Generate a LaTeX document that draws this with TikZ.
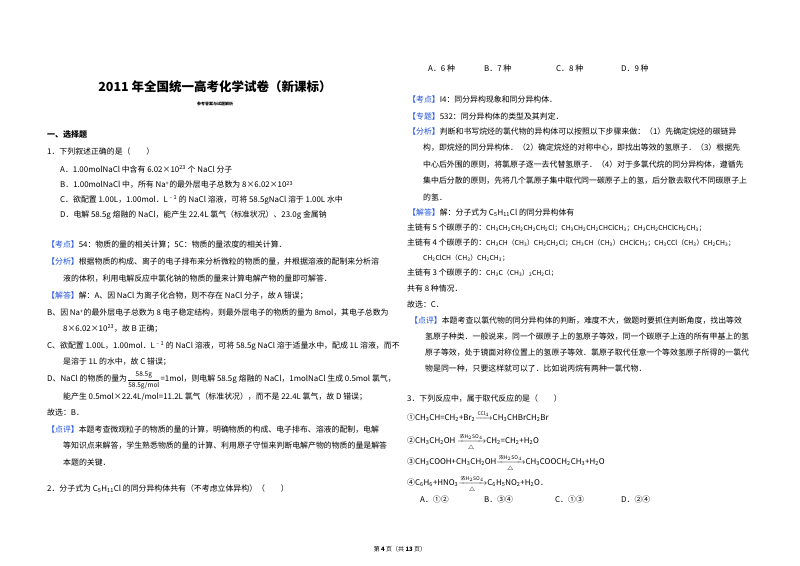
\documentclass[tikz,border=0pt]{standalone}
\usepackage{amsmath}
\usepackage{fontspec}
\setmainfont{Noto Sans CJK SC}
\definecolor{tagblue}{RGB}{30,80,220}
\newcommand{\tg}[1]{\textcolor{tagblue}{【#1】}}
\newcommand{\sbs}[1]{\textsubscript{#1}}
\newcommand{\sps}[1]{\textsuperscript{#1}}
\newcommand{\rarr}[1]{\raisebox{0pt}[4pt][0pt]{$\xrightarrow[{\scriptstyle\triangle}]{\text{\tiny #1}}$}}
\begin{document}
\begin{tikzpicture}[x=1pt,y=1pt,
  txt/.style={anchor=west,inner sep=0,font=\fontsize{7.9}{9}\selectfont}]
\fill[white] (0,0) rectangle (800,565);
\useasboundingbox (0,0) rectangle (800,565);
\newcommand{\Ln}[4]{\node[txt] (#1) at (#2,565-#3) {#4};}
% left column
\node[font=\fontsize{12.5}{14}\selectfont\bfseries] (title) at (215,565-87) {2011 年全国统一高考化学试卷（新课标）};
\node[font=\fontsize{4}{5}\selectfont\bfseries] (sub) at (215,565-104) {参考答案与试题解析};
\node[txt,font=\fontsize{8}{9}\selectfont\bfseries] (sec) at (47,565-135) {一、选择题};
\Ln{q1}{47}{152}{1．下列叙述正确的是（\quad\quad）}
\Ln{q1a}{60}{169}{A．1.00molNaCl 中含有 6.02×10\sps{23} 个 NaCl 分子}
\Ln{q1b}{60}{185}{B．1.00molNaCl 中，所有 Na\sps{+}的最外层电子总数为 8×6.02×10\sps{23}}
\Ln{q1c}{60}{200}{C．欲配置 1.00L，1.00mol．L\sps{﹣1} 的 NaCl 溶液，可将 58.5gNaCl 溶于 1.00L 水中}
\Ln{q1d}{60}{215}{D．电解 58.5g 熔融的 NaCl，能产生 22.4L 氯气（标准状况）、23.0g 金属钠}
\Ln{k1}{47}{245}{\tg{考点}54：物质的量的相关计算；5C：物质的量浓度的相关计算．}
\Ln{f1}{47}{262}{\tg{分析}根据物质的构成、离子的电子排布来分析微粒的物质的量，并根据溶液的配制来分析溶}
\Ln{f1b}{63}{279}{液的体积，利用电解反应中氯化钠的物质的量来计算电解产物的量即可解答．}
\Ln{j1}{47}{296}{\tg{解答}解：A、因 NaCl 为离子化合物，则不存在 NaCl 分子，故 A 错误；}
\Ln{j1b}{47}{313}{B、因 Na\sps{+}的最外层电子总数为 8 电子稳定结构，则最外层电子的物质的量为 8mol，其电子总数为}
\Ln{j1c}{63}{329}{8×6.02×10\sps{23}，故 B 正确；}
\Ln{j1d}{47}{346}{C、欲配置 1.00L，1.00mol．L\sps{﹣1} 的 NaCl 溶液，可将 58.5g NaCl 溶于适量水中，配成 1L 溶液，而不}
\Ln{j1e}{63}{362}{是溶于 1L 的水中，故 C 错误；}
\Ln{j1f}{47}{380}{D、NaCl 的物质的量为\raisebox{0pt}[5pt][3pt]{$\dfrac{\text{\fontsize{6.5}{7}\selectfont 58.5g}}{\text{\fontsize{6.5}{7}\selectfont 58.5g/mol}}$}=1mol，则电解 58.5g 熔融的 NaCl，1molNaCl 生成 0.5mol 氯气，}
\Ln{j1g}{63}{397}{能产生 0.5mol×22.4L/mol=11.2L 氯气（标准状况），而不是 22.4L 氯气，故 D 错误；}
\Ln{j1h}{47}{413}{故选：B．}
\Ln{d1}{47}{430}{\tg{点评}本题考查微观粒子的物质的量的计算，明确物质的构成、电子排布、溶液的配制，电解}
\Ln{d1b}{63}{446}{等知识点来解答，学生熟悉物质的量的计算、利用原子守恒来判断电解产物的物质的量是解答}
\Ln{d1c}{63}{463}{本题的关键．}
\Ln{q2}{47}{489}{2．分子式为 C\sbs{5}H\sbs{11}Cl 的同分异构体共有（不考虑立体异构）（\quad\quad）}
% right column
\Ln{q2a}{428}{69}{A．6 种}
\Ln{q2b}{484}{69}{B．7 种}
\Ln{q2c}{556}{69}{C．8 种}
\Ln{q2d}{621}{69}{D．9 种}
\Ln{k2}{408}{100}{\tg{考点}I4：同分异构现象和同分异构体．}
\Ln{z2}{408}{116}{\tg{专题}532：同分异构体的类型及其判定．}
\Ln{f2}{408}{132}{\tg{分析}判断和书写烷烃的氯代物的异构体可以按照以下步骤来做：（1）先确定烷烃的碳链异}
\Ln{f2b}{423}{148}{构，即烷烃的同分异构体．（2）确定烷烃的对称中心，即找出等效的氢原子．（3）根据先}
\Ln{f2c}{423}{165}{中心后外围的原则，将氯原子逐一去代替氢原子．（4）对于多氯代烷的同分异构体，遵循先}
\Ln{f2d}{423}{181}{集中后分散的原则，先将几个氯原子集中取代同一碳原子上的氢，后分散去取代不同碳原子上}
\Ln{f2e}{423}{197}{的氢．}
\Ln{j2}{408}{213}{\tg{解答}解：分子式为 C\sbs{5}H\sbs{11}Cl 的同分异构体有}
\Ln{j2a}{407}{228}{主链有 5 个碳原子的：{\fontsize{6.8}{8}\selectfont CH\sbs{3}CH\sbs{2}CH\sbs{2}CH\sbs{2}CH\sbs{2}Cl；CH\sbs{3}CH\sbs{2}CH\sbs{2}CHClCH\sbs{3}；CH\sbs{3}CH\sbs{2}CHClCH\sbs{2}CH\sbs{3}；}}
\Ln{j2b}{407}{243}{主链有 4 个碳原子的：{\fontsize{6.8}{8}\selectfont CH\sbs{3}CH（CH\sbs{3}）CH\sbs{2}CH\sbs{2}Cl；CH\sbs{3}CH（CH\sbs{3}）CHClCH\sbs{3}；CH\sbs{3}CCl（CH\sbs{3}）CH\sbs{2}CH\sbs{3}；}}
\Ln{j2c}{423}{258}{{\fontsize{6.8}{8}\selectfont CH\sbs{2}ClCH（CH\sbs{3}）CH\sbs{2}CH\sbs{3}；}}
\Ln{j2d}{407}{273}{主链有 3 个碳原子的：{\fontsize{6.8}{8}\selectfont CH\sbs{3}C（CH\sbs{3}）\sbs{2}CH\sbs{2}Cl；}}
\Ln{j2e}{407}{289}{共有 8 种情况．}
\Ln{j2f}{407}{305}{故选：C．}
\Ln{d2}{410}{321}{\tg{点评}本题考查以氯代物的同分异构体的判断，难度不大，做题时要抓住判断角度，找出等效}
\Ln{d2b}{425}{337}{氢原子种类．一般说来，同一个碳原子上的氢原子等效，同一个碳原子上连的所有甲基上的氢}
\Ln{d2c}{425}{353}{原子等效，处于镜面对称位置上的氢原子等效．氯原子取代任意一个等效氢原子所得的一氯代}
\Ln{d2d}{425}{369}{物是同一种，只要这样就可以了．比如说丙烷有两种一氯代物．}
\Ln{q3}{407}{399}{3．下列反应中，属于取代反应的是（\quad\quad）}
\Ln{r1}{407}{418}{①CH\sbs{3}CH=CH\sbs{2}+Br\sbs{2}\raisebox{0pt}[4pt][0pt]{$\xrightarrow{\text{\tiny CCl$_4$}}$}CH\sbs{3}CHBrCH\sbs{2}Br}
\Ln{r2}{407}{441}{②CH\sbs{3}CH\sbs{2}OH \rarr{浓H$_2$SO$_4$}CH\sbs{2}=CH\sbs{2}+H\sbs{2}O}
\Ln{r3}{407}{462}{③CH\sbs{3}COOH+CH\sbs{3}CH\sbs{2}OH\rarr{浓H$_2$SO$_4$}CH\sbs{3}COOCH\sbs{2}CH\sbs{3}+H\sbs{2}O}
\Ln{r4}{407}{483}{④C\sbs{6}H\sbs{6}+HNO\sbs{3}\rarr{浓H$_2$SO$_4$}C\sbs{6}H\sbs{5}NO\sbs{2}+H\sbs{2}O．}
\Ln{q3a}{420}{499}{A．①②}
\Ln{q3b}{484}{499}{B．③④}
\Ln{q3c}{555}{499}{C．①③}
\Ln{q3d}{621}{499}{D．②④}
\node[font=\fontsize{6}{7}\selectfont] (foot) at (400,565-549) {第 \textbf{4} 页（共 \textbf{13} 页）};
\end{tikzpicture}
\end{document}
